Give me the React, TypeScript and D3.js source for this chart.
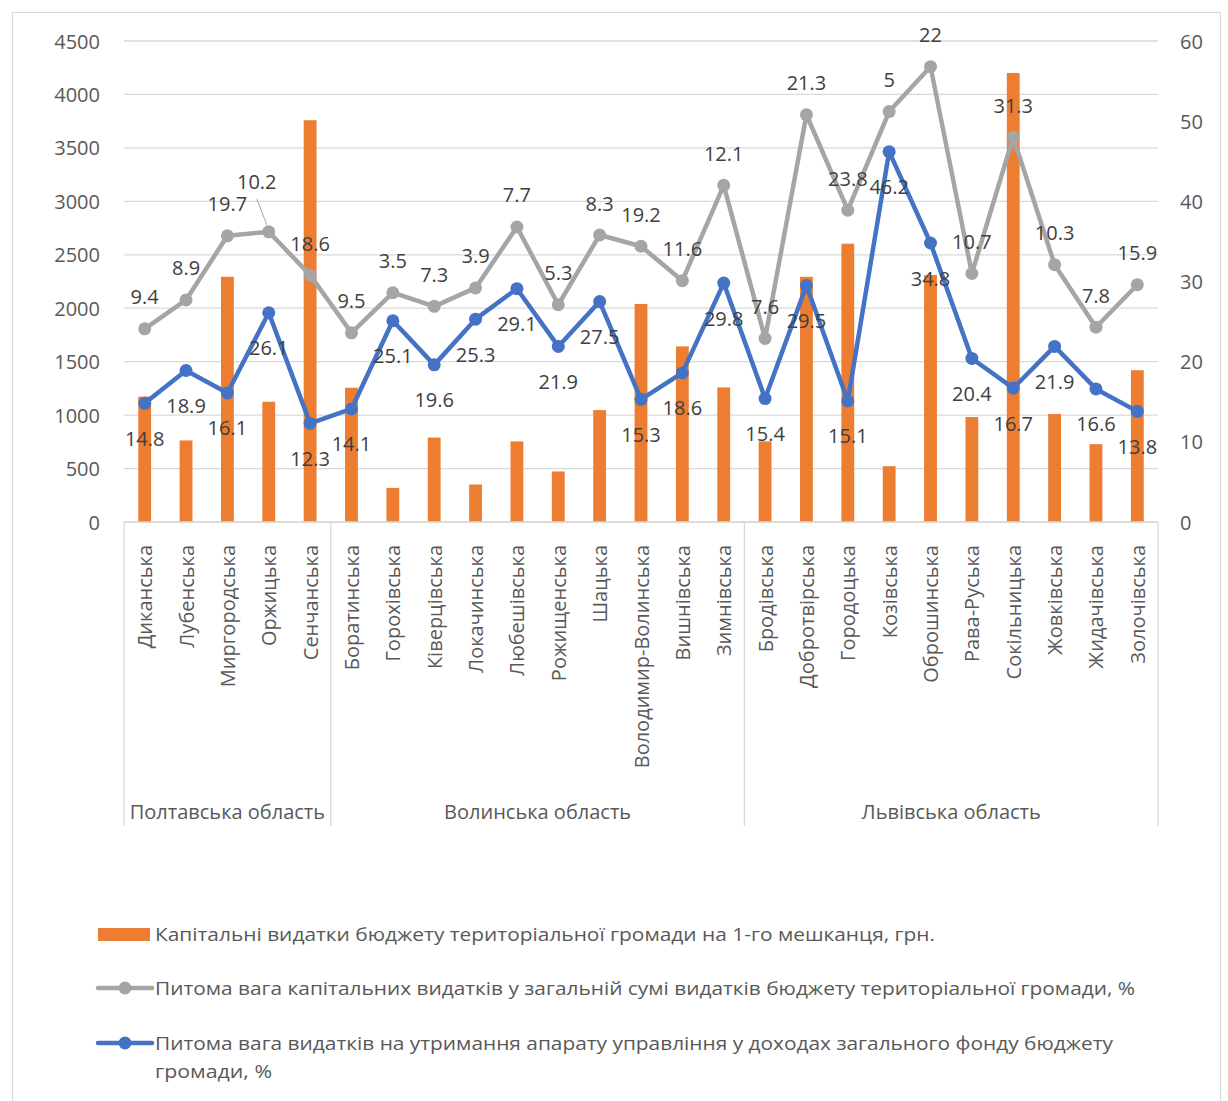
import React from 'react';
import * as d3 from 'd3';

const categories = [
  'Диканська', 'Лубенська', 'Миргородська', 'Оржицька', 'Сенчанська',
  'Боратинська', 'Горохівська', 'Ківерцівська', 'Локачинська', 'Любешівська',
  'Рожищенська', 'Шацька', 'Володимир-Волинська', 'Вишнівська', 'Зимнівська',
  'Бродівська', 'Добротвірська', 'Городоцька', 'Козівська', 'Оброшинська',
  'Рава-Руська', 'Сокільницька', 'Жовківська', 'Жидачівська', 'Золочівська',
];

const regionNames = ['Полтавська область', 'Волинська область', 'Львівська область'];
const regionSizes = [5, 10, 10];

// Капітальні видатки на 1-го мешканця, грн (left axis)
const capitalPerCapita = [
  1173, 763, 2294, 1125, 3759,
  1256, 319, 790, 351, 754,
  473, 1047, 2040, 1643, 1259,
  754, 2294, 2604, 522, 2310,
  982, 4201, 1011, 728, 1420,
];

// Питома вага капітальних видатків, % (right axis) — plotted positions
const capitalShare = [
  24.1, 27.7, 35.7, 36.2, 30.8,
  23.6, 28.6, 26.9, 29.2, 36.8,
  27.1, 35.8, 34.4, 30.1, 42.0,
  22.9, 50.8, 38.9, 51.2, 56.8,
  31.0, 48.0, 32.1, 24.3, 29.6,
];
// data labels shown for that series (as printed in the source)
const capitalShareLabels = [
  '9.4', '8.9', '19.7', '10.2', '18.6',
  '9.5', '3.5', '7.3', '3.9', '7.7',
  '5.3', '8.3', '19.2', '11.6', '12.1',
  '7.6', '21.3', '23.8', '5', '22',
  '10.7', '31.3', '10.3', '7.8', '15.9',
];

// Питома вага видатків на утримання апарату управління, % (right axis)
const adminShare = [
  14.8, 18.9, 16.1, 26.1, 12.3,
  14.1, 25.1, 19.6, 25.3, 29.1,
  21.9, 27.5, 15.3, 18.6, 29.8,
  15.4, 29.5, 15.1, 46.2, 34.8,
  20.4, 16.7, 21.9, 16.6, 13.8,
];

const leftTicks = [0, 500, 1000, 1500, 2000, 2500, 3000, 3500, 4000, 4500];
const rightTicks = [0, 10, 20, 30, 40, 50, 60];

const legendLabels = [
  'Капітальні видатки бюджету територіальної громади на 1-го мешканця, грн.',
  'Питома вага капітальних видатків у загальній сумі видатків бюджету територіальної громади, %',
  'Питома вага видатків на утримання апарату управління у доходах загального фонду бюджету',
  'громади, %',
];

// layout / style
const W = 1228;
const H = 1101;
const plot = { left: 124, right: 1158, top: 41, bottom: 522 };
const COLORS = { bar: '#ED7D31', gray: '#A5A5A5', blue: '#4472C4', grid: '#D9D9D9', axisText: '#595959', label: '#404040' };
const FONT = '"Open Sans", "DejaVu Sans", sans-serif';
const grayLabelAdjust: Record<number, { dx: number; dy: number; leader?: boolean }> = {
  3: { dx: -12, dy: -50, leader: true },
};

export default function App() {
  const x = d3.scaleBand<string>().domain(categories).range([plot.left, plot.right]).paddingInner(0).paddingOuter(0);
  const yL = d3.scaleLinear().domain([0, 4500]).range([plot.bottom, plot.top]);
  const yR = d3.scaleLinear().domain([0, 60]).range([plot.bottom, plot.top]);
  const bw = x.bandwidth();
  const barW = bw * 0.31;
  const cx = (c: string) => (x(c) as number) + bw / 2;

  const grayLine = d3.line<number>().x((_, i) => cx(categories[i])).y((d) => yR(d));
  const blueLine = d3.line<number>().x((_, i) => cx(categories[i])).y((d) => yR(d));

  // region boundaries
  const bounds: number[] = [plot.left];
  let acc = 0;
  regionSizes.forEach((n) => {
    acc += n;
    bounds.push(plot.left + acc * bw);
  });

  return (
    <svg width={W} height={H} style={{ position: 'absolute', left: 0, top: 0, background: '#fff' }} fontFamily={FONT}>
      <rect x={0} y={0} width={W} height={H} fill="#fff" />
      <rect x={12.5} y={12.5} width={1208} height={1100} fill="none" stroke={COLORS.grid} strokeWidth={1} />

      {/* gridlines */}
      {leftTicks.map((t) => (
        <line key={'g' + t} x1={plot.left} x2={plot.right} y1={yL(t)} y2={yL(t)} stroke={COLORS.grid} strokeWidth={1.3} />
      ))}

      {/* left axis labels */}
      {leftTicks.map((t) => (
        <text key={'l' + t} x={100} y={yL(t)} textAnchor="end" dominantBaseline="central" fontSize={20} fill={COLORS.axisText}>
          {t}
        </text>
      ))}
      {/* right axis labels */}
      {rightTicks.map((t) => (
        <text key={'r' + t} x={1180} y={yR(t)} textAnchor="start" dominantBaseline="central" fontSize={20} fill={COLORS.axisText}>
          {t}
        </text>
      ))}

      {/* bars */}
      {capitalPerCapita.map((v, i) => (
        <rect key={'b' + i} x={cx(categories[i]) - barW / 2} y={yL(v)} width={barW} height={yL(0) - yL(v)} fill={COLORS.bar} />
      ))}

      {/* category axis */}
      <line x1={plot.left} x2={plot.right} y1={plot.bottom} y2={plot.bottom} stroke={COLORS.grid} strokeWidth={1.3} />
      {bounds.map((b, i) => (
        <line key={'s' + i} x1={b} x2={b} y1={plot.bottom} y2={826} stroke={COLORS.grid} strokeWidth={1.3} />
      ))}
      {categories.map((c) => (
        <text
          key={'c' + c}
          transform={`translate(${cx(c)},545) rotate(-90)`}
          textAnchor="end"
          dominantBaseline="central"
          fontSize={20}
          fill={COLORS.axisText}
        >
          {c}
        </text>
      ))}
      {regionNames.map((r, i) => (
        <text key={'rg' + i} x={(bounds[i] + bounds[i + 1]) / 2} y={811} textAnchor="middle" dominantBaseline="central" fontSize={20} fill={COLORS.axisText}>
          {r}
        </text>
      ))}

      {/* gray line */}
      <path d={grayLine(capitalShare) || ''} fill="none" stroke={COLORS.gray} strokeWidth={4.5} strokeLinejoin="round" />
      {capitalShare.map((v, i) => (
        <circle key={'gm' + i} cx={cx(categories[i])} cy={yR(v)} r={6.5} fill={COLORS.gray} />
      ))}

      {/* blue line */}
      <path d={blueLine(adminShare) || ''} fill="none" stroke={COLORS.blue} strokeWidth={4.5} strokeLinejoin="round" />
      {adminShare.map((v, i) => (
        <circle key={'bm' + i} cx={cx(categories[i])} cy={yR(v)} r={6.5} fill={COLORS.blue} />
      ))}

      {/* gray labels */}
      {capitalShare.map((v, i) => {
        const adj = grayLabelAdjust[i] || { dx: 0, dy: -32 };
        const px = cx(categories[i]);
        const py = yR(v);
        const lx = px + adj.dx;
        const ly = py + adj.dy;
        return (
          <g key={'gl' + i}>
            {adj.leader && <line x1={lx} y1={ly + 17} x2={px - 2} y2={py - 7} stroke={COLORS.gray} strokeWidth={1} />}
            <text x={lx} y={ly} textAnchor="middle" dominantBaseline="central" fontSize={20} fill={COLORS.label}>
              {capitalShareLabels[i]}
            </text>
          </g>
        );
      })}
      {/* blue labels */}
      {adminShare.map((v, i) => (
        <text key={'bl' + i} x={cx(categories[i])} y={yR(v) + 35} textAnchor="middle" dominantBaseline="central" fontSize={20} fill={COLORS.label}>
          {v}
        </text>
      ))}

      {/* legend */}
      <rect x={98} y={928} width={52} height={13} fill={COLORS.bar} />
      <text x={155} y={934} dominantBaseline="central" fontSize={19} fill={COLORS.axisText} textLength={780} lengthAdjust="spacingAndGlyphs">
        {legendLabels[0]}
      </text>
      <line x1={98} x2={152} y1={988} y2={988} stroke={COLORS.gray} strokeWidth={4.5} strokeLinecap="round" />
      <circle cx={125} cy={988} r={6.5} fill={COLORS.gray} />
      <text x={155} y={988} dominantBaseline="central" fontSize={19} fill={COLORS.axisText} textLength={980} lengthAdjust="spacingAndGlyphs">
        {legendLabels[1]}
      </text>
      <line x1={98} x2={152} y1={1043} y2={1043} stroke={COLORS.blue} strokeWidth={4.5} strokeLinecap="round" />
      <circle cx={125} cy={1043} r={6.5} fill={COLORS.blue} />
      <text x={155} y={1043} dominantBaseline="central" fontSize={19} fill={COLORS.axisText} textLength={958} lengthAdjust="spacingAndGlyphs">
        {legendLabels[2]}
      </text>
      <text x={155} y={1071} dominantBaseline="central" fontSize={19} fill={COLORS.axisText} textLength={117} lengthAdjust="spacingAndGlyphs">
        {legendLabels[3]}
      </text>
    </svg>
  );
}
